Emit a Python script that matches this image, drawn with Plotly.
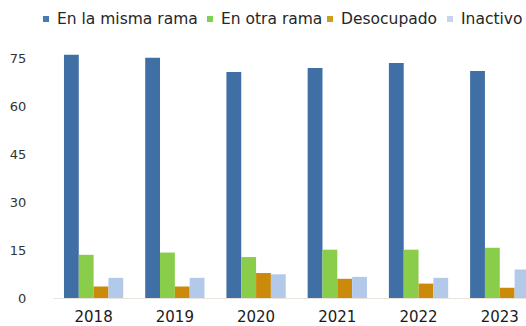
import plotly.graph_objects as go

years = ["2018", "2019", "2020", "2021", "2022", "2023"]
misma_rama = [76.0, 75.1, 70.6, 71.9, 73.4, 70.9]
otra_rama = [13.5, 14.2, 12.8, 15.1, 15.1, 15.7]
desocupado = [3.6, 3.6, 7.8, 6.0, 4.5, 3.2]
inactivo = [6.3, 6.3, 7.4, 6.6, 6.3, 8.9]

series_names = ["En la misma rama", "En otra rama", "Desocupado", "Inactivo"]
series_values = [misma_rama, otra_rama, desocupado, inactivo]
bar_colors = ["#3f6fa5", "#8acd4a", "#cc8a0a", "#b3c9ea"]
legend_colors = ["#4a78b0", "#7fd050", "#c8a020", "#c8d4ee"]

W, H = 526, 326
ML, MR, MT, MB = 53, 0, 42, 28
PW, PH = W - ML - MR, H - MT - MB

fig = go.Figure()
for name, vals, col in zip(series_names, series_values, bar_colors):
    fig.add_trace(go.Bar(x=years, y=vals, name=name, marker_color=col,
                         marker_line_width=0, showlegend=False))

# hand-laid legend row across the top
legend_x = [46, 210, 330, 450]   # square centres, px
legend_y = 19
for name, col, px in zip(series_names, legend_colors, legend_x):
    xp = (px - ML) / PW
    yp = (H - MB - legend_y) / PH
    fig.add_shape(type="rect", xref="paper", yref="paper",
                  xsizemode="pixel", ysizemode="pixel",
                  xanchor=xp, yanchor=yp, x0=-3, x1=3, y0=-3, y1=3,
                  fillcolor=col, line_width=0)
    fig.add_annotation(text=name, xref="paper", yref="paper",
                       x=(px + 9 - ML) / PW, y=yp, xanchor="left",
                       yanchor="middle", showarrow=False,
                       font=dict(family="DejaVu Sans", size=15.5, color="#262626"))

fig.update_layout(
    width=W, height=H,
    margin=dict(l=ML, r=MR, t=MT, b=MB, pad=0, autoexpand=False),
    paper_bgcolor="white", plot_bgcolor="white",
    barmode="group", bargap=0.27, bargroupgap=0,
    xaxis=dict(type="category", range=[-0.5, 5.323], showgrid=False,
               automargin=False,
               showline=True, linecolor="#ebe4dc", linewidth=1,
               ticks="outside", ticklen=5, tickcolor="rgba(0,0,0,0)",
               tickfont=dict(family="DejaVu Sans", size=15, color="#1a1a1a")),
    yaxis=dict(range=[0, 80], tickvals=[0, 15, 30, 45, 60, 75],
               automargin=False,
               showgrid=False, zeroline=False, showline=False,
               ticks="outside", ticklen=23, tickcolor="rgba(0,0,0,0)",
               tickfont=dict(family="DejaVu Sans", size=13, color="#333333")),
)

fig.write_html("out.html")
